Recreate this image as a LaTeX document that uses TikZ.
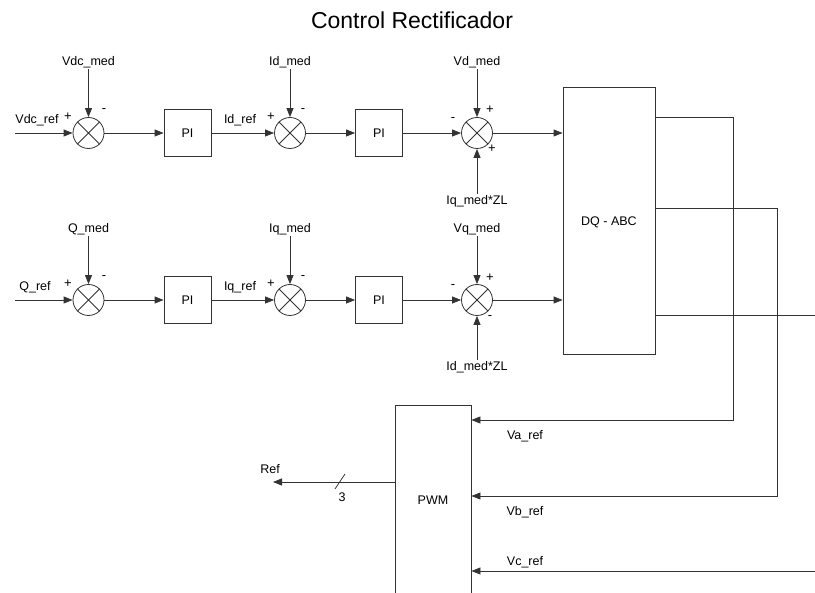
\documentclass[tikz,border=0pt]{standalone}
\usepackage{fontspec}
\setmainfont{Liberation Sans}
\usetikzlibrary{arrows.meta,calc}
\begin{document}
\begin{tikzpicture}[x=1pt,y=-1pt,
  ln/.style={draw=black!80, line width=0.8pt},
  arr/.style={ln,-{Triangle[length=9pt,width=7pt]}},
  blk/.style={draw=black!80,line width=0.8pt,minimum width=47pt,minimum height=47pt,inner sep=0pt,font=\fontsize{12.5}{14}\selectfont},
  sumc/.style={circle,draw=black!80,line width=0.8pt,minimum size=31pt,inner sep=0pt},
  lbl/.style={font=\fontsize{12.5}{14}\selectfont,inner sep=1pt},
  sg/.style={font=\fontsize{13}{14}\selectfont,inner sep=0pt}]
\useasboundingbox (0,0) rectangle (815,593);
\node[font=\fontsize{23}{26}\selectfont] (title) at (412,20) {Control Rectificador};
% row 1
\node[sumc] (s1) at (88.5,133) {};
\node[blk] (p1) at (187.5,133) {PI};
\node[sumc] (s2) at (290,133) {};
\node[blk] (p2) at (379,133) {PI};
\node[sumc] (s3) at (477,133) {};
% row 2
\node[sumc] (s4) at (88.5,300) {};
\node[blk] (p3) at (187.5,300) {PI};
\node[sumc] (s5) at (290,300) {};
\node[blk] (p4) at (379,300) {PI};
\node[sumc] (s6) at (477,300) {};
\foreach \s in {s1,s2,s3,s4,s5,s6}{
  \draw[ln] (\s.45) -- (\s.225) (\s.135) -- (\s.315);
}
% DQ-ABC
\node[draw=black!80,line width=0.8pt,minimum width=92pt,minimum height=267pt,inner sep=0pt] (dq) at (609,220.5) {};
\node[lbl] (dqlbl) at (609,222) {DQ - ABC};
% PWM
\begin{scope}
\clip (0,0) rectangle (815,593);
\node[draw=black!80,line width=0.8pt,minimum width=76pt,minimum height=190pt,inner sep=0pt,font=\fontsize{12.5}{14}\selectfont] (pwm) at (433,500) {PWM};
\end{scope}
% inputs
\coordinate (in1) at (15,133);
\coordinate (in2) at (15,300);
\draw[arr] (in1) -- (s1.west);
\draw[arr] (in2) -- (s4.west);
\node[lbl] (vdcref) at (37,120) {Vdc\_ref};
\node[lbl] (qref) at (35,287) {Q\_ref};
% forward path
\draw[arr] (s1.east) -- (s1.east -| p1.west);
\draw[arr] (p1.east) -- (s2.west);
\draw[arr] (s2.east) -- (s2.east -| p2.west);
\draw[arr] (p2.east) -- (s3.west);
\draw[arr] (s3.east) -- (s3.east -| dq.west);
\draw[arr] (s4.east) -- (s4.east -| p3.west);
\draw[arr] (p3.east) -- (s5.west);
\draw[arr] (s5.east) -- (s5.east -| p4.west);
\draw[arr] (p4.east) -- (s6.west);
\draw[arr] (s6.east) -- (s6.east -| dq.west);
\node[lbl] (idref) at (240,120) {Id\_ref};
\node[lbl] (iqref) at (240,287) {Iq\_ref};
% top inputs
\node[lbl] (vdcmed) at (88.5,62) {Vdc\_med};
\node[lbl] (idmed) at (290,62) {Id\_med};
\node[lbl] (vdmed) at (477,62) {Vd\_med};
\node[lbl] (qmed) at (88.5,229) {Q\_med};
\node[lbl] (iqmed) at (290,229) {Iq\_med};
\node[lbl] (vqmed) at (477,229) {Vq\_med};
\draw[arr] (vdcmed.south) -- (s1.north);
\draw[arr] (idmed.south) -- (s2.north);
\draw[arr] (vdmed.south) -- (s3.north);
\draw[arr] (qmed.south) -- (s4.north);
\draw[arr] (iqmed.south) -- (s5.north);
\draw[arr] (vqmed.south) -- (s6.north);
% bottom inputs
\node[lbl] (iqzl) at (477,201) {Iq\_med*ZL};
\node[lbl] (idzl) at (477,367) {Id\_med*ZL};
\draw[arr] (iqzl.north) -- (s3.south);
\draw[arr] (idzl.north) -- (s6.south);
% signs
\node[sg] at (68,117) {+};
\node[sg] at (104,111) {-};
\node[sg] at (271,117) {+};
\node[sg] at (303,111) {-};
\node[sg] at (453,120) {-};
\node[sg] at (490,110) {+};
\node[sg] at (492,149) {+};
\node[sg] at (68,284) {+};
\node[sg] at (104,278) {-};
\node[sg] at (271,284) {+};
\node[sg] at (303,278) {-};
\node[sg] at (453,287) {-};
\node[sg] at (490,278) {+};
\node[sg] at (490,318) {-};
% DQ outputs to PWM
\coordinate (a1) at (733,117);
\coordinate (a2) at (733,420);
\coordinate (b1) at (777,208);
\coordinate (b2) at (777,496);
\coordinate (c1) at (815,315);
\coordinate (c2) at (815,571);
\draw[arr] (dq.east |- a1) -- (a1) -- (a2) -- (a2 -| pwm.east);
\draw[arr] (dq.east |- b1) -- (b1) -- (b2) -- (b2 -| pwm.east);
\draw[ln] (dq.east |- c1) -- (c1);
\draw[arr] (c2) -- (c2 -| pwm.east);
\node[lbl] (varef) at (525,436) {Va\_ref};
\node[lbl] (vbref) at (525,512) {Vb\_ref};
\node[lbl] (vcref) at (525,562) {Vc\_ref};
% PWM output
\coordinate (refend) at (273,482);
\draw[arr] (pwm.west |- refend) -- (refend);
\coordinate (sl1) at (335,489);
\coordinate (sl2) at (345,474);
\draw[ln] (sl1) -- (sl2);
\node[lbl] (three) at (342,497) {3};
\node[lbl] (reflbl) at (270,469) {Ref};
\end{tikzpicture}
\end{document}
